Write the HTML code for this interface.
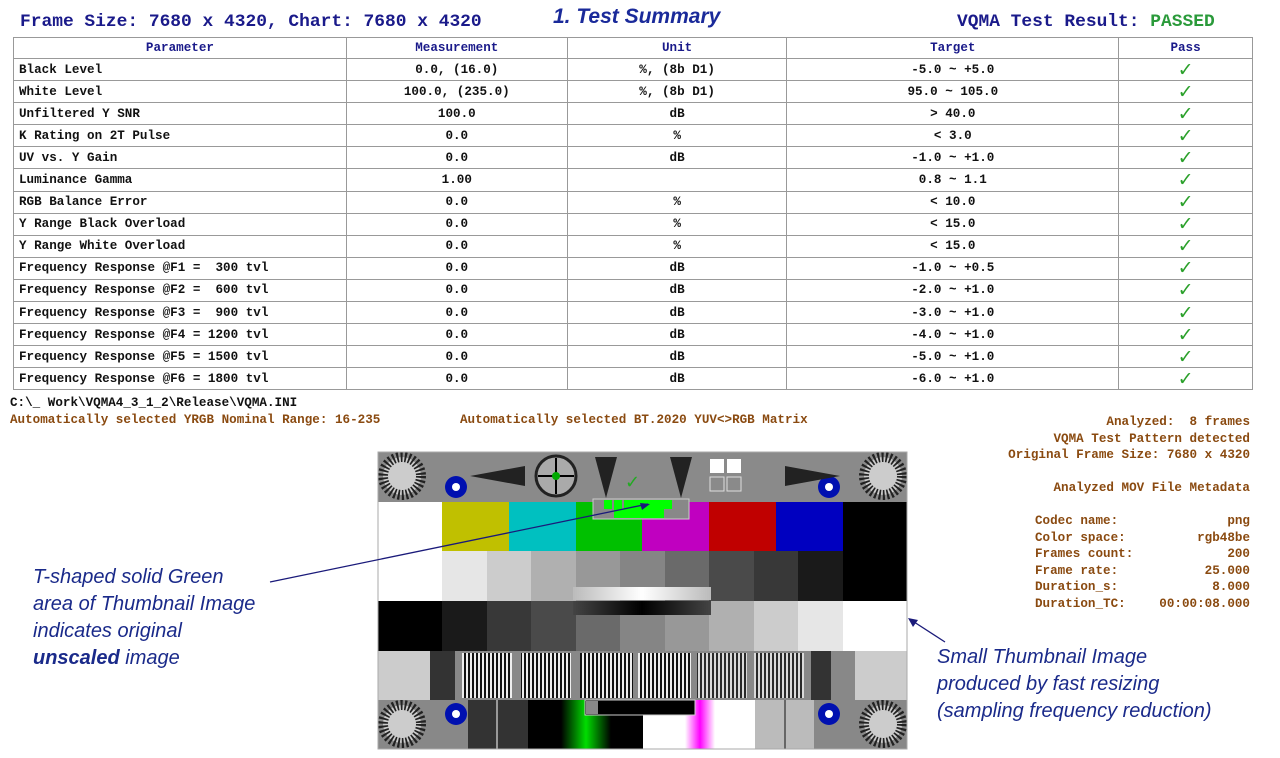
<!DOCTYPE html>
<html><head><meta charset="utf-8"><style>
body{margin:0;width:1280px;height:758px;background:#fff;position:relative;overflow:hidden;font-family:"Liberation Mono",monospace;}
.a{position:absolute;white-space:pre;}
.m{font-family:"Liberation Mono",monospace;font-size:12.6px;font-weight:bold;}
.br{color:#8a4a10;}
table{position:absolute;left:13px;top:37px;border-collapse:collapse;width:1240px;}
tr{height:22.1px;}
tr:first-child{height:21px;}
td,th{border:1.5px solid #999;padding:0 5px;line-height:14px;font-family:"Liberation Mono",monospace;font-size:12.6px;font-weight:bold;white-space:pre;}
th{color:#1a1a8a;font-weight:bold;}
td{text-align:center;color:#111;}
td:first-child{text-align:left;}
td.ck{color:#2aa02a;font-size:19px;font-family:"DejaVu Sans",sans-serif;font-weight:bold;line-height:16px;}
.it{font-family:"Liberation Sans",sans-serif;font-style:italic;font-size:20px;color:#1a2a8a;line-height:27px;}
</style></head><body>
<div class="a" style="left:20px;top:12px;font-size:17.9px;font-weight:bold;color:#1a1a8a;">Frame Size: 7680 x 4320, Chart: 7680 x 4320</div>
<div class="a" style="left:553px;top:5px;font-family:'Liberation Sans',sans-serif;font-style:italic;font-weight:bold;font-size:21px;color:#1a2a9a;">1. Test Summary</div>
<div class="a" style="left:957px;top:12px;font-size:17.9px;font-weight:bold;color:#1a1a8a;">VQMA Test Result: <span style="color:#2a9a3a">PASSED</span></div>
<table>
<colgroup><col style="width:333px"><col style="width:221px"><col style="width:220px"><col style="width:332px"><col style="width:134px"></colgroup>
<tr><th>Parameter</th><th>Measurement</th><th>Unit</th><th>Target</th><th>Pass</th></tr>
<tr><td>Black Level</td><td>0.0, (16.0)</td><td>%, (8b D1)</td><td>-5.0 ~ +5.0</td><td class="ck">✓</td></tr>
<tr><td>White Level</td><td>100.0, (235.0)</td><td>%, (8b D1)</td><td>95.0 ~ 105.0</td><td class="ck">✓</td></tr>
<tr><td>Unfiltered Y SNR</td><td>100.0</td><td>dB</td><td>&gt; 40.0</td><td class="ck">✓</td></tr>
<tr><td>K Rating on 2T Pulse</td><td>0.0</td><td>%</td><td>&lt; 3.0</td><td class="ck">✓</td></tr>
<tr><td>UV vs. Y Gain</td><td>0.0</td><td>dB</td><td>-1.0 ~ +1.0</td><td class="ck">✓</td></tr>
<tr><td>Luminance Gamma</td><td>1.00</td><td></td><td>0.8 ~ 1.1</td><td class="ck">✓</td></tr>
<tr><td>RGB Balance Error</td><td>0.0</td><td>%</td><td>&lt; 10.0</td><td class="ck">✓</td></tr>
<tr><td>Y Range Black Overload</td><td>0.0</td><td>%</td><td>&lt; 15.0</td><td class="ck">✓</td></tr>
<tr><td>Y Range White Overload</td><td>0.0</td><td>%</td><td>&lt; 15.0</td><td class="ck">✓</td></tr>
<tr><td>Frequency Response @F1 =  300 tvl</td><td>0.0</td><td>dB</td><td>-1.0 ~ +0.5</td><td class="ck">✓</td></tr>
<tr><td>Frequency Response @F2 =  600 tvl</td><td>0.0</td><td>dB</td><td>-2.0 ~ +1.0</td><td class="ck">✓</td></tr>
<tr><td>Frequency Response @F3 =  900 tvl</td><td>0.0</td><td>dB</td><td>-3.0 ~ +1.0</td><td class="ck">✓</td></tr>
<tr><td>Frequency Response @F4 = 1200 tvl</td><td>0.0</td><td>dB</td><td>-4.0 ~ +1.0</td><td class="ck">✓</td></tr>
<tr><td>Frequency Response @F5 = 1500 tvl</td><td>0.0</td><td>dB</td><td>-5.0 ~ +1.0</td><td class="ck">✓</td></tr>
<tr><td>Frequency Response @F6 = 1800 tvl</td><td>0.0</td><td>dB</td><td>-6.0 ~ +1.0</td><td class="ck">✓</td></tr>
</table>
<div class="a m" style="left:10px;top:396px;color:#111;">C:\_ Work\VQMA4_3_1_2\Release\VQMA.INI</div>
<div class="a m br" style="left:10px;top:413px;">Automatically selected YRGB Nominal Range: 16-235</div>
<div class="a m br" style="left:460px;top:413px;">Automatically selected BT.2020 YUV&lt;&gt;RGB Matrix</div>
<div class="a m br" style="right:30px;top:414px;text-align:right;line-height:16.5px;">Analyzed:  8 frames
VQMA Test Pattern detected
Original Frame Size: 7680 x 4320

Analyzed MOV File Metadata</div>
<div class="a m br" style="left:1035px;top:513px;line-height:16.5px;">Codec name:
Color space:
Frames count:
Frame rate:
Duration_s:
Duration_TC:</div>
<div class="a m br" style="right:30px;top:513px;text-align:right;line-height:16.5px;">png
rgb48be
200
25.000
8.000
00:00:08.000</div>
<div class="a it" style="left:33px;top:564px;">T-shaped solid Green
area of Thumbnail Image
indicates original
<b>unscaled</b> image</div>
<div class="a it" style="left:937px;top:644px;">Small Thumbnail Image
produced by fast resizing
(sampling frequency reduction)</div>

<svg class="a" style="left:0;top:0" width="1280" height="758">
<g>
<rect x="378" y="452" width="529" height="297" fill="#888"/>
<rect x="378" y="452" width="529" height="50" fill="#8a8a8a"/>
<circle cx="402" cy="476" r="19" fill="#ccc"/><circle cx="402" cy="476" r="19" fill="none" stroke="#222" stroke-width="10" stroke-dasharray="2 2"/>
<circle cx="883" cy="476" r="19" fill="#ccc"/><circle cx="883" cy="476" r="19" fill="none" stroke="#222" stroke-width="10" stroke-dasharray="2 2"/>
<circle cx="456" cy="487" r="11" fill="#0010b0"/><circle cx="456" cy="487" r="4" fill="#fff"/>
<circle cx="829" cy="487" r="11" fill="#0010b0"/><circle cx="829" cy="487" r="4" fill="#fff"/>
<circle cx="556" cy="476" r="20" fill="#aaa" stroke="#222" stroke-width="3"/>
<line x1="556" y1="458" x2="556" y2="494" stroke="#000" stroke-width="2"/><line x1="538" y1="476" x2="574" y2="476" stroke="#000" stroke-width="2"/>
<circle cx="556" cy="476" r="4" fill="#0a0"/>
<polygon points="470,476 525,466 525,486" fill="#222"/>
<polygon points="840,476 785,466 785,486" fill="#222"/>
<polygon points="595,457 617,457 606,498" fill="#222"/>
<polygon points="670,457 692,457 681,498" fill="#222"/>
<rect x="710" y="459" width="14" height="14" fill="#fff"/><rect x="727" y="459" width="14" height="14" fill="#fff"/>
<rect x="710" y="477" width="14" height="14" fill="none" stroke="#ddd"/><rect x="727" y="477" width="14" height="14" fill="none" stroke="#ddd"/>
<text x="625" y="488" font-size="18" fill="#2a2" font-family="DejaVu Sans">✓</text>
<rect x="378" y="502" width="64" height="49" fill="#fff"/>
<rect x="442" y="502" width="67" height="49" fill="#c0c000"/>
<rect x="509" y="502" width="67" height="49" fill="#00c0c0"/>
<rect x="576" y="502" width="66" height="49" fill="#00c000"/>
<rect x="642" y="502" width="67" height="49" fill="#c000c0"/>
<rect x="709" y="502" width="67" height="49" fill="#c00000"/>
<rect x="776" y="502" width="67" height="49" fill="#0000c0"/>
<rect x="843" y="502" width="64" height="49" fill="#000"/>
<rect x="593" y="499" width="96" height="20" fill="#888" stroke="#ccc"/>
<rect x="604" y="500" width="8" height="9" fill="#0f0"/><rect x="614" y="500" width="8" height="9" fill="#0f0"/>
<rect x="624" y="500" width="40" height="18" fill="#0f0"/><rect x="640" y="500" width="24" height="9" fill="#0f0"/>
<rect x="664" y="500" width="8" height="9" fill="#0f0"/><rect x="614" y="509" width="10" height="9" fill="#0f0"/><rect x="642" y="500" width="18" height="18" fill="#0f0"/>
<rect x="378" y="551" width="64" height="50" fill="#fff"/>
<rect x="442" y="551" width="45" height="50" fill="#e6e6e6"/>
<rect x="487" y="551" width="44" height="50" fill="#cccccc"/>
<rect x="531" y="551" width="45" height="50" fill="#b0b0b0"/>
<rect x="576" y="551" width="44" height="50" fill="#989898"/>
<rect x="620" y="551" width="45" height="50" fill="#858585"/>
<rect x="665" y="551" width="44" height="50" fill="#6a6a6a"/>
<rect x="709" y="551" width="45" height="50" fill="#4a4a4a"/>
<rect x="754" y="551" width="44" height="50" fill="#383838"/>
<rect x="798" y="551" width="45" height="50" fill="#1a1a1a"/>
<rect x="843" y="551" width="64" height="50" fill="#000"/>
<rect x="378" y="601" width="64" height="50" fill="#000"/>
<rect x="442" y="601" width="45" height="50" fill="#1a1a1a"/>
<rect x="487" y="601" width="44" height="50" fill="#383838"/>
<rect x="531" y="601" width="45" height="50" fill="#4a4a4a"/>
<rect x="576" y="601" width="44" height="50" fill="#6a6a6a"/>
<rect x="620" y="601" width="45" height="50" fill="#858585"/>
<rect x="665" y="601" width="44" height="50" fill="#989898"/>
<rect x="709" y="601" width="45" height="50" fill="#b0b0b0"/>
<rect x="754" y="601" width="44" height="50" fill="#cccccc"/>
<rect x="798" y="601" width="45" height="50" fill="#e6e6e6"/>
<rect x="843" y="601" width="64" height="50" fill="#fff"/>
<defs>
<linearGradient id="g1"><stop offset="0" stop-color="#bbb"/><stop offset=".5" stop-color="#fff"/><stop offset="1" stop-color="#bbb"/></linearGradient>
<linearGradient id="g2"><stop offset="0" stop-color="#444"/><stop offset=".5" stop-color="#000"/><stop offset="1" stop-color="#444"/></linearGradient>
<linearGradient id="gg"><stop offset="0" stop-color="#000"/><stop offset=".5" stop-color="#0d0"/><stop offset="1" stop-color="#000"/></linearGradient>
<linearGradient id="gm"><stop offset="0" stop-color="#fff"/><stop offset=".5" stop-color="#f0f"/><stop offset="1" stop-color="#fff"/></linearGradient>
<pattern id="st" width="4" height="10" patternUnits="userSpaceOnUse"><rect width="2" height="10" fill="#111"/><rect x="2" width="2" height="10" fill="#eee"/></pattern>
</defs>
<rect x="573" y="587" width="138" height="13" fill="url(#g1)"/>
<rect x="573" y="601" width="138" height="14" fill="url(#g2)"/>
<rect x="378" y="651" width="52" height="49" fill="#ccc"/>
<rect x="430" y="651" width="25" height="49" fill="#333"/>
<rect x="455" y="651" width="387" height="49" fill="#888"/>
<rect x="462" y="653" width="50" height="45" fill="url(#st)"/>
<rect x="521" y="653" width="50" height="45" fill="url(#st)"/>
<rect x="580" y="653" width="53" height="45" fill="url(#st)"/>
<rect x="638" y="653" width="53" height="45" fill="url(#st)"/>
<rect x="697" y="653" width="50" height="45" fill="url(#st)" opacity=".8"/>
<rect x="754" y="653" width="50" height="45" fill="url(#st)" opacity=".8"/>
<rect x="811" y="651" width="20" height="49" fill="#333"/>
<rect x="855" y="651" width="52" height="49" fill="#ccc"/>
<circle cx="402" cy="724" r="19" fill="#ccc"/><circle cx="402" cy="724" r="19" fill="none" stroke="#222" stroke-width="10" stroke-dasharray="2 2"/>
<circle cx="883" cy="724" r="19" fill="#ccc"/><circle cx="883" cy="724" r="19" fill="none" stroke="#222" stroke-width="10" stroke-dasharray="2 2"/>
<circle cx="456" cy="714" r="11" fill="#0010b0"/><circle cx="456" cy="714" r="4" fill="#fff"/>
<circle cx="829" cy="714" r="11" fill="#0010b0"/><circle cx="829" cy="714" r="4" fill="#fff"/>
<rect x="468" y="700" width="60" height="49" fill="#333"/><line x1="497" y1="700" x2="497" y2="749" stroke="#fff"/>
<rect x="528" y="700" width="33" height="49" fill="#000"/>
<rect x="561" y="700" width="50" height="49" fill="url(#gg)"/>
<rect x="611" y="700" width="32" height="49" fill="#000"/>
<rect x="643" y="700" width="42" height="49" fill="#fff"/>
<rect x="685" y="700" width="30" height="49" fill="url(#gm)"/>
<rect x="715" y="700" width="40" height="49" fill="#fff"/>
<rect x="755" y="700" width="59" height="49" fill="#bbb"/><line x1="785" y1="700" x2="785" y2="749" stroke="#111"/>
<rect x="585" y="700" width="110" height="15" fill="#000" stroke="#ccc"/>
<rect x="586" y="701" width="12" height="13" fill="#888"/>
<rect x="378" y="452" width="529" height="297" fill="none" stroke="#aaa"/>
</g>
<line x1="270" y1="582" x2="648" y2="504" stroke="#1a1a7a" stroke-width="1.3"/>
<polygon points="650,504 640,503 642,510" fill="#1a1a7a"/>
<line x1="945" y1="642" x2="911" y2="620" stroke="#1a1a7a" stroke-width="1.3"/>
<polygon points="908,618 918,620 913,627" fill="#1a1a7a"/>
</svg>
</body></html>
